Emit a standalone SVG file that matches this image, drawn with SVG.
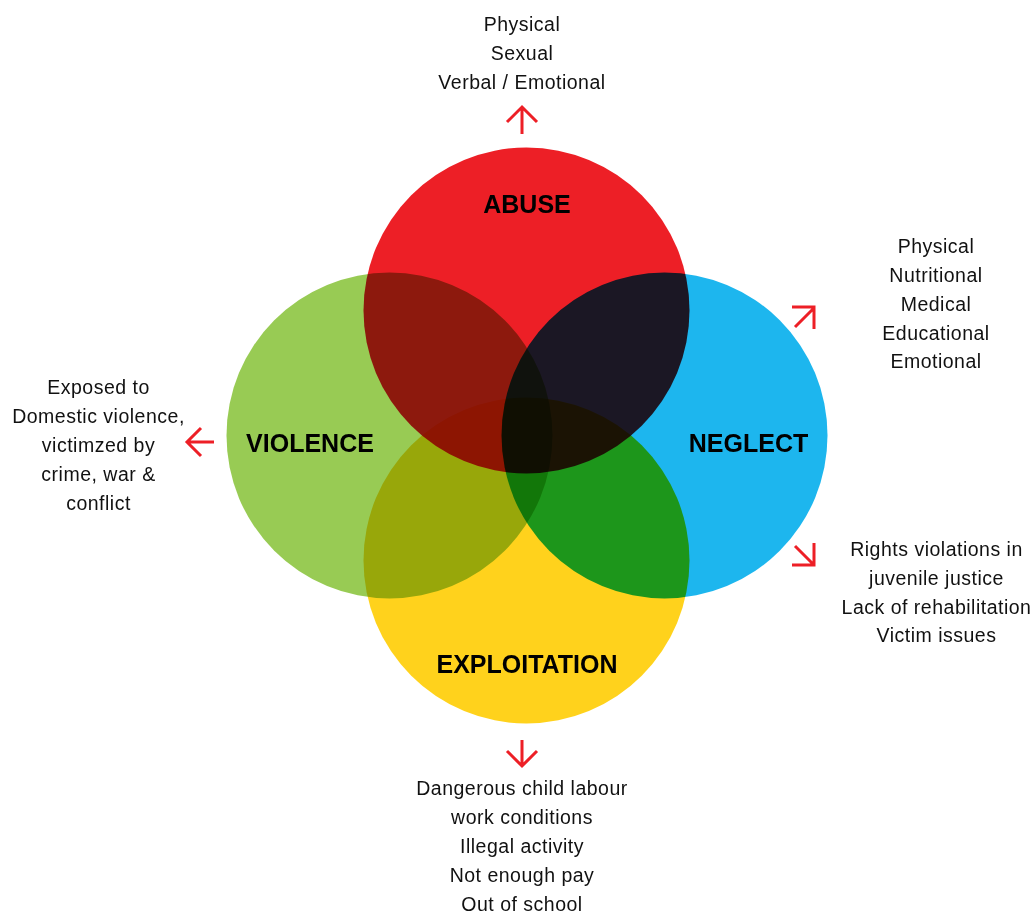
<svg xmlns="http://www.w3.org/2000/svg" width="1034" height="913" viewBox="0 0 1034 913">
<style>
.c{mix-blend-mode:multiply}
.lbl{font-family:"Liberation Sans",Arial,sans-serif;font-weight:bold;font-size:25px;fill:#000;text-anchor:middle}
.t{font-family:"Liberation Sans",Arial,sans-serif;font-size:19.5px;fill:#111;text-anchor:middle;letter-spacing:0.5px}
.ar{fill:none;stroke:#ED1F26;stroke-width:3}
</style>
<rect width="1034" height="913" fill="#fff"/>
<g id="circles" style="isolation:isolate">
<circle id="abuse-circle" class="c" cx="526.5" cy="310.5" r="163" fill="#ED1F26"/>
<circle id="violence-circle" class="c" cx="389.5" cy="435.5" r="163" fill="#98CB54"/>
<circle id="neglect-circle" class="c" cx="664.5" cy="435.5" r="163" fill="#1DB6EE"/>
<circle id="exploitation-circle" class="c" cx="526.5" cy="560.5" r="163" fill="#FFD21C"/>
</g>
<g id="abuse">
<text class="lbl" x="527" y="213">ABUSE</text>
<text class="t" x="522" y="31">Physical</text>
<text class="t" x="522" y="60">Sexual</text>
<text class="t" x="522" y="89">Verbal / Emotional</text>
</g>
<g id="violence">
<text class="lbl" x="310" y="452">VIOLENCE</text>
<text class="t" x="98.5" y="394">Exposed to</text>
<text class="t" x="98.5" y="423">Domestic violence,</text>
<text class="t" x="98.5" y="452">victimzed by</text>
<text class="t" x="98.5" y="481">crime, war &amp;</text>
<text class="t" x="98.5" y="510">conflict</text>
</g>
<g id="neglect">
<text class="lbl" x="748.5" y="452">NEGLECT</text>
<text class="t" x="936" y="253">Physical</text>
<text class="t" x="936" y="282">Nutritional</text>
<text class="t" x="936" y="311">Medical</text>
<text class="t" x="936" y="340">Educational</text>
<text class="t" x="936" y="368">Emotional</text>
<text class="t" x="936.5" y="556">Rights violations in</text>
<text class="t" x="936.5" y="585">juvenile justice</text>
<text class="t" x="936.5" y="614">Lack of rehabilitation</text>
<text class="t" x="936.5" y="642">Victim issues</text>
</g>
<g id="exploitation">
<text class="lbl" x="527" y="673">EXPLOITATION</text>
<text class="t" x="522" y="795">Dangerous child labour</text>
<text class="t" x="522" y="824">work conditions</text>
<text class="t" x="522" y="853">Illegal activity</text>
<text class="t" x="522" y="882">Not enough pay</text>
<text class="t" x="522" y="911">Out of school</text>
</g>
<g id="connectors">
<path class="ar" d="M522 134V108M507 122L522 107L537 122"/>
<path class="ar" d="M214 442H189M201 428L187 442L201 456"/>
<path class="ar" d="M795 327L813 309M792 307H814V329"/>
<path class="ar" d="M795 546L813 564M792 565H814V543"/>
<path class="ar" d="M522 740V764M507 751L522 766L537 751"/>
</g>
</svg>
